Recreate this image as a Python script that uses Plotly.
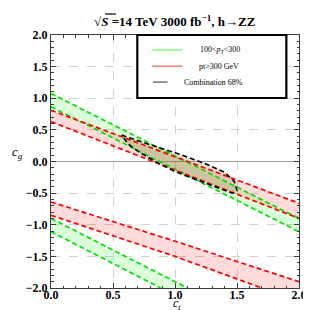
import plotly.graph_objects as go

# ---- axes -------------------------------------------------------------
X_RANGE = [0.0, 2.0]
Y_RANGE = [-2.0, 2.0]
X_TICKS = [0.0, 0.5, 1.0, 1.5, 2.0]
Y_TICKS = [-2.0, -1.5, -1.0, -0.5, 0.0, 0.5, 1.0, 1.5, 2.0]

# ---- 100 < pT < 300 (green) ------------------------------------------
g_up_top_ct = [0.0, 2.0]
g_up_top_cg = [1.075, -0.90]
g_up_bot_ct = [0.0, 2.0]
g_up_bot_cg = [0.865, -1.11]
g_lo_top_ct = [0.0, 1.10]
g_lo_top_cg = [-0.90, -2.0]
g_lo_bot_ct = [0.0, 0.885]
g_lo_bot_cg = [-1.11, -2.0]

# ---- pT > 300 GeV (red) ----------------------------------------------
r_up_top_ct = [0.0, 2.0]
r_up_top_cg = [0.81, -0.66]
r_up_bot_ct = [0.0, 2.0]
r_up_bot_cg = [0.63, -0.90]
r_lo_top_ct = [0.0, 1.0, 2.0]
r_lo_top_cg = [-0.64, -1.26, -1.90]
r_lo_bot_ct = [0.0, 1.0, 1.70]
r_lo_bot_cg = [-0.85, -1.50, -2.0]

# ---- combination 68% contour ------------------------------------------
comb_ct = [0.57, 0.61, 0.80, 1.00, 1.24, 1.40, 1.48, 1.50,
           1.46, 1.30, 1.10, 1.00, 0.85, 0.71, 0.62, 0.57]
comb_cg = [0.42, 0.39, 0.265, 0.14, -0.03, -0.17, -0.32, -0.46,
           -0.50, -0.38, -0.24, -0.16, -0.01, 0.15, 0.28, 0.42]

GREEN = "rgb(0,225,0)"
RED = "rgb(255,0,0)"
GREEN_FILL = "rgba(0,255,0,0.14)"
RED_FILL = "rgba(255,0,0,0.14)"
COMB_FILL = "rgba(135,105,45,0.2)"
DASH = "5px,3px"

fig = go.Figure()


def band(top_x, top_y, bot_x, bot_y, fill, corner=None):
    xs = list(top_x)
    ys = list(top_y)
    if corner is not None:
        xs.append(corner[0])
        ys.append(corner[1])
    xs += list(reversed(bot_x))
    ys += list(reversed(bot_y))
    fig.add_trace(go.Scatter(x=xs, y=ys, mode="lines", fill="toself",
                             fillcolor=fill, line=dict(width=0),
                             hoverinfo="skip", showlegend=False))


def dline(x, y, color, width=1.7):
    fig.add_trace(go.Scatter(x=x, y=y, mode="lines",
                             line=dict(color=color, width=width, dash=DASH),
                             hoverinfo="skip", showlegend=False))


band(g_up_top_ct, g_up_top_cg, g_up_bot_ct, g_up_bot_cg, GREEN_FILL)
band(g_lo_top_ct, g_lo_top_cg, g_lo_bot_ct, g_lo_bot_cg, GREEN_FILL)
band(r_up_top_ct, r_up_top_cg, r_up_bot_ct, r_up_bot_cg, RED_FILL)
band(r_lo_top_ct, r_lo_top_cg, r_lo_bot_ct, r_lo_bot_cg, RED_FILL,
     corner=(X_RANGE[1], Y_RANGE[0]))
fig.add_trace(go.Scatter(x=comb_ct, y=comb_cg, mode="lines", fill="toself",
                         fillcolor=COMB_FILL, line=dict(width=0),
                         hoverinfo="skip", showlegend=False))

for x, y in [(g_up_top_ct, g_up_top_cg), (g_up_bot_ct, g_up_bot_cg),
             (g_lo_top_ct, g_lo_top_cg), (g_lo_bot_ct, g_lo_bot_cg)]:
    dline(x, y, GREEN)
for x, y in [(r_up_top_ct, r_up_top_cg), (r_up_bot_ct, r_up_bot_cg),
             (r_lo_top_ct, r_lo_top_cg), (r_lo_bot_ct, r_lo_bot_cg)]:
    dline(x, y, RED)
dline(comb_ct, comb_cg, "black", 1.6)

TICKFONT = dict(family="Liberation Serif", size=12, color="black", weight="bold")
FRAME = "#3a3a3a"

common = dict(ticks="inside", ticklen=5, tickcolor=FRAME, tickwidth=1,
              mirror="allticks", showline=True, linecolor=FRAME, linewidth=1,
              showgrid=True, gridcolor="#d2d2d2", griddash="dash", gridwidth=1,
              tickformat=".1f", tickfont=TICKFONT, tick0=0, dtick=0.5,
              minor=dict(ticks="inside", ticklen=2.5, dtick=0.1, tickcolor=FRAME,
                         showgrid=False))

fig.update_xaxes(range=X_RANGE, tickvals=X_TICKS, zeroline=False,
                 ticklabelstandoff=-4, **common)
fig.update_yaxes(range=Y_RANGE, tickvals=Y_TICKS, zeroline=True,
                 zerolinecolor="#9a9a9a", zerolinewidth=1, **common)

# ---- legend box (drawn manually, Mathematica style) --------------------
shapes = [
    dict(type="rect", xref="paper", yref="paper", x0=0.348, x1=0.949,
         y0=0.751, y1=1.0, fillcolor="white", line=dict(color="black", width=2.2),
         layer="above"),
    dict(type="line", xref="paper", yref="paper", x0=0.407, x1=0.530,
         y0=0.941, y1=0.941, line=dict(color="rgb(90,255,90)", width=1.2), layer="above"),
    dict(type="line", xref="paper", yref="paper", x0=0.407, x1=0.530,
         y0=0.877, y1=0.877, line=dict(color="rgb(255,90,90)", width=1.2), layer="above"),
    dict(type="line", xref="paper", yref="paper", x0=0.411, x1=0.470,
         y0=0.814, y1=0.814, line=dict(color="rgb(80,80,80)", width=1.2), layer="above"),
    # overline of the S under the square-root sign in the title
    dict(type="line", xref="paper", yref="paper", x0=0.218, x1=0.262,
         y0=1.083, y1=1.083, line=dict(color="black", width=1.2)),
]
LEGFONT = dict(family="Liberation Serif", size=8, color="black")
annotations = [
    dict(text="100&lt;<i>p</i><sub><i>T</i></sub>&lt;300", x=0.593, y=0.941,
         xanchor="left", yanchor="middle", font=LEGFONT),
    dict(text="pt&gt;300 GeV", x=0.589, y=0.877, xanchor="left",
         yanchor="middle", font=LEGFONT),
    dict(text="Combination 68%", x=0.530, y=0.814, xanchor="left",
         yanchor="middle", font=LEGFONT),
    dict(text="√<i>S</i> =14 TeV 3000 fb<sup>−1</sup>, h→ZZ", x=0.502, y=1.055,
         xanchor="center", yanchor="middle",
         font=dict(family="Liberation Serif", size=13, color="black", weight="bold")),
    dict(text="<i>c</i><sub><i>t</i></sub>", x=0.51, y=-0.097, xanchor="center",
         yanchor="bottom", borderpad=0,
         font=dict(family="Liberation Serif", size=12, color="black")),
    dict(text="<i>c</i><sub><i>g</i></sub>", x=-0.135, y=0.535, xanchor="center",
         yanchor="middle", font=dict(family="Liberation Serif", size=13, color="black")),
]
for a in annotations:
    a.update(xref="paper", yref="paper", showarrow=False)

fig.update_layout(width=311, height=310,
                  margin=dict(l=43, r=15, t=27, b=30),
                  paper_bgcolor="white", plot_bgcolor="white",
                  shapes=shapes, annotations=annotations, showlegend=False)

fig.write_html("out.html")
